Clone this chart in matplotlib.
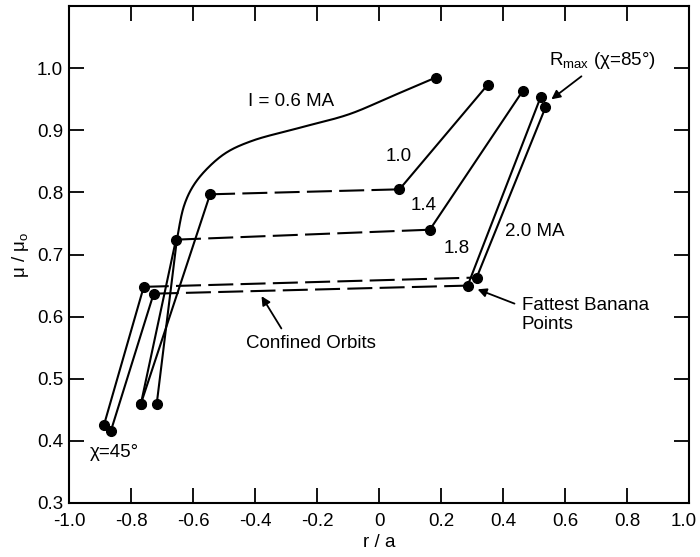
import matplotlib
matplotlib.use("Agg")
import numpy as np
import matplotlib.pyplot as plt
from matplotlib.ticker import FuncFormatter
from matplotlib.transforms import ScaledTranslation

plt.rcParams['font.family'] = ['Liberation Sans', 'DejaVu Sans']
plt.rcParams['mathtext.default'] = 'regular'

# I = 0.6 MA: one continuous curve from chi = 45 deg up to R_max
curve06_r = [-0.717, -0.668, -0.648, -0.628, -0.600, -0.557, -0.493,
             -0.410, -0.257, -0.096, 0.042, 0.183]
curve06_mu = [0.460, 0.660, 0.735, 0.780, 0.810, 0.837, 0.864,
              0.883, 0.904, 0.926, 0.955, 0.985]

# Higher currents: chi=45 deg point -> inner edge of confined orbits
# -> fattest banana point -> R_max (chi=85 deg)
currents = ["1.0", "1.4", "1.8", "2.0"]
chi45_r = [-0.768, -0.768, -0.865, -0.887]
chi45_mu = [0.460, 0.460, 0.416, 0.426]
inner_r = [-0.545, -0.655, -0.727, -0.759]
inner_mu = [0.797, 0.724, 0.637, 0.648]
fat_r = [0.066, 0.164, 0.286, 0.315]
fat_mu = [0.805, 0.740, 0.650, 0.663]
rmax_r = [0.350, 0.463, 0.521, 0.537]
rmax_mu = [0.973, 0.963, 0.953, 0.937]

x_ticks = [-1.0, -0.8, -0.6, -0.4, -0.2, 0.0, 0.2, 0.4, 0.6, 0.8, 1.0]
y_ticks = [0.3, 0.4, 0.5, 0.6, 0.7, 0.8, 0.9, 1.0]

LW = 1.5
MS = 7
FS = 13.5


def centripetal_spline(xs, ys, n=30, yscale=2.0):
    """Smooth path through the given points (centripetal Catmull-Rom)."""
    P = np.column_stack([xs, np.asarray(ys) * yscale]).astype(float)
    P = np.vstack([2 * P[0] - P[1], P, 2 * P[-1] - P[-2]])
    out = []
    for i in range(1, len(P) - 2):
        p0, p1, p2, p3 = P[i - 1], P[i], P[i + 1], P[i + 2]
        t0 = 0.0
        t1 = t0 + np.linalg.norm(p1 - p0) ** 0.5
        t2 = t1 + np.linalg.norm(p2 - p1) ** 0.5
        t3 = t2 + np.linalg.norm(p3 - p2) ** 0.5
        t = np.linspace(t1, t2, n, endpoint=False)[:, None]
        a1 = (t1 - t) / (t1 - t0) * p0 + (t - t0) / (t1 - t0) * p1
        a2 = (t2 - t) / (t2 - t1) * p1 + (t - t1) / (t2 - t1) * p2
        a3 = (t3 - t) / (t3 - t2) * p2 + (t - t2) / (t3 - t2) * p3
        b1 = (t2 - t) / (t2 - t0) * a1 + (t - t0) / (t2 - t0) * a2
        b2 = (t3 - t) / (t3 - t1) * a2 + (t - t1) / (t3 - t1) * a3
        out.append((t2 - t) / (t2 - t1) * b1 + (t - t1) / (t2 - t1) * b2)
    out.append(P[-2][None, :])
    c = np.vstack(out)
    return c[:, 0], c[:, 1] / yscale


fig = plt.figure(figsize=(7.0, 5.57), dpi=100)
ax = fig.add_axes([0.0986, 0.097, 0.8857, 0.892])

sx, sy = centripetal_spline(curve06_r, curve06_mu)
ax.plot(sx, sy, color='black', lw=LW, solid_capstyle='round')
ax.plot([curve06_r[0], curve06_r[-1]], [curve06_mu[0], curve06_mu[-1]],
        'o', color='black', ms=MS, ls='none')

for i in range(len(currents)):
    ax.plot([chi45_r[i], inner_r[i]], [chi45_mu[i], inner_mu[i]],
            color='black', lw=LW)
    ax.plot([inner_r[i], fat_r[i]], [inner_mu[i], fat_mu[i]],
            color='black', lw=LW, dashes=(12, 3.5))
    ax.plot([fat_r[i], rmax_r[i]], [fat_mu[i], rmax_mu[i]],
            color='black', lw=LW)
    ax.plot([chi45_r[i], inner_r[i], fat_r[i], rmax_r[i]],
            [chi45_mu[i], inner_mu[i], fat_mu[i], rmax_mu[i]],
            'o', color='black', ms=MS, ls='none')

# Curve labels
ax.text(-0.424, 0.947, "I = 0.6 MA", fontsize=FS, ha='left', va='center')
ax.text(0.064, 0.858, currents[0], fontsize=FS, ha='center', va='center')
ax.text(0.145, 0.779, currents[1], fontsize=FS, ha='center', va='center')
ax.text(0.251, 0.710, currents[2], fontsize=FS, ha='center', va='center')
ax.text(0.408, 0.737, currents[3] + " MA", fontsize=FS, ha='left', va='center')
ax.text(-0.932, 0.382, "χ=45°", fontsize=FS, ha='left', va='center')

# Annotations with arrows
arrow = dict(arrowstyle='-|>', color='black', lw=1.3, mutation_scale=13,
             shrinkA=0, shrinkB=0)
ax.text(0.547, 1.013, "R$_{max}$ (χ=85°)", fontsize=FS, ha='left', va='center')
ax.annotate("", xy=(0.556, 0.950), xytext=(0.653, 0.987), arrowprops=arrow)

ax.text(0.460, 0.602, "Fattest Banana\nPoints", fontsize=FS, ha='left',
        va='center', linespacing=1.15)
ax.annotate("", xy=(0.318, 0.644), xytext=(0.437, 0.621), arrowprops=arrow)

ax.text(-0.428, 0.556, "Confined Orbits", fontsize=FS, ha='left', va='center')
ax.annotate("", xy=(-0.379, 0.633), xytext=(-0.315, 0.581), arrowprops=arrow)

# Axes, ticks and labels
ax.set_xlim(-1.0, 1.0)
ax.set_ylim(0.3, 1.1)
ax.set_xticks(x_ticks)
ax.set_yticks(y_ticks)
ax.xaxis.set_major_formatter(FuncFormatter(
    lambda v, p: "0" if abs(v) < 1e-9 else f"{v:.1f}"))
ax.yaxis.set_major_formatter(FuncFormatter(lambda v, p: f"{v:.1f}"))
ax.tick_params(axis='both', which='major', direction='in', length=10.5,
               width=1.3, top=True, right=True, labelsize=FS, color='black')
ax.tick_params(axis='x', pad=7)
ax.tick_params(axis='y', pad=4.3)
for sp in ax.spines.values():
    sp.set_linewidth(1.5)

ax.set_xlabel("r / a", fontsize=FS, labelpad=3)
ax.set_ylabel("μ / μ$_o$", fontsize=FS, labelpad=4)

# keep the last x tick label inside the figure
fig.canvas.draw()
last = ax.get_xticklabels()[-1]
last.set_transform(last.get_transform() +
                   ScaledTranslation(-5 / 100, 0, fig.dpi_scale_trans))

fig.savefig("out.png", dpi=100)
